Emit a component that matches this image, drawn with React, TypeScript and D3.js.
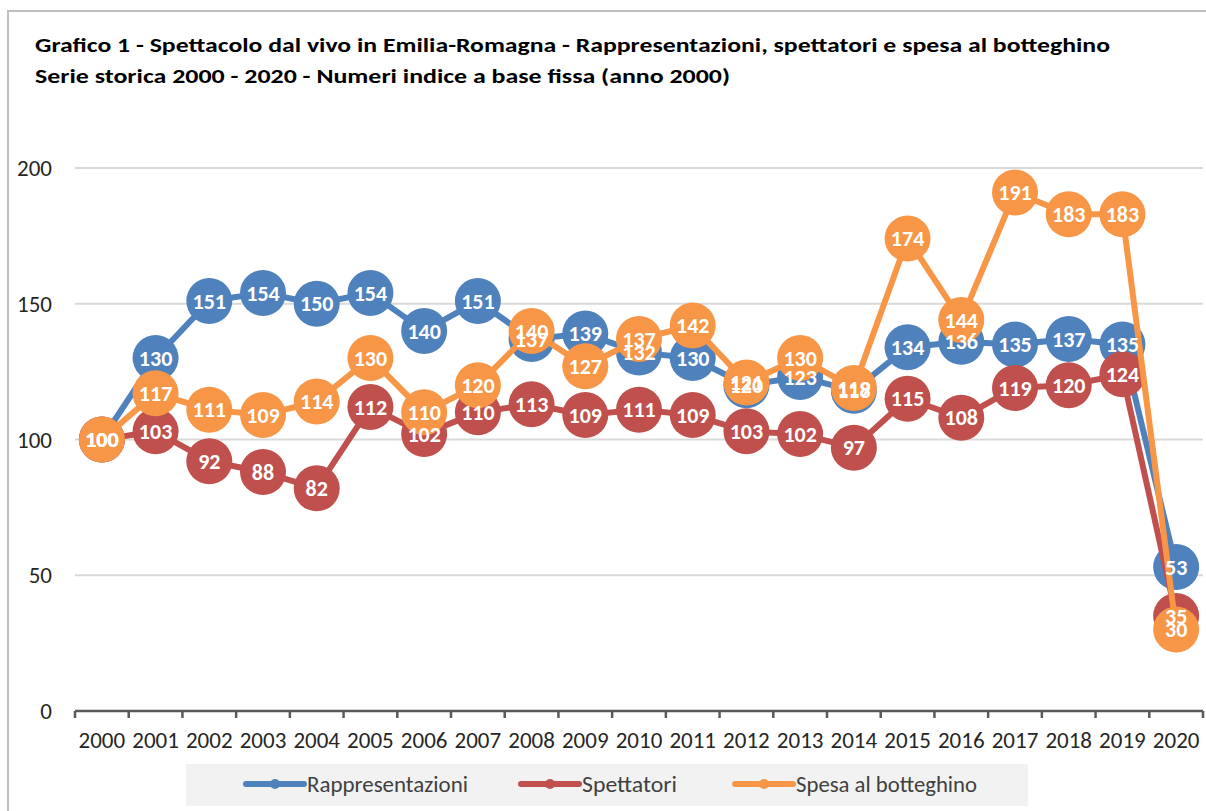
import { useEffect, useRef } from "react"
import * as d3 from "d3"

const years = [
  "2000", "2001", "2002", "2003", "2004", "2005", "2006", "2007", "2008", "2009", "2010",
  "2011", "2012", "2013", "2014", "2015", "2016", "2017", "2018", "2019", "2020",
]

const rappresentazioni = [100, 130, 151, 154, 150, 154, 140, 151, 137, 139, 132, 130, 120, 123, 118, 134, 136, 135, 137, 135, 53]
const spettatori = [100, 103, 92, 88, 82, 112, 102, 110, 113, 109, 111, 109, 103, 102, 97, 115, 108, 119, 120, 124, 35]
const spesa = [100, 117, 111, 109, 114, 130, 110, 120, 140, 127, 137, 142, 121, 130, 119, 174, 144, 191, 183, 183, 30]

const yTicks = [0, 50, 100, 150, 200]

const seriesNames = ["Rappresentazioni", "Spettatori", "Spesa al botteghino"]
const seriesColors = ["#4f81bd", "#c0504d", "#f79646"]

const titleLines = [
  "Grafico 1 - Spettacolo dal vivo in Emilia-Romagna - Rappresentazioni, spettatori e spesa al botteghino",
  "Serie storica 2000 - 2020  - Numeri indice a base fissa (anno 2000)",
]

const font = "Carlito, 'Liberation Sans Narrow', 'Liberation Sans', Arial, sans-serif"

export default function App() {
  const svgRef = useRef<SVGSVGElement>(null)

  useEffect(() => {
    if (!svgRef.current) return
    const svg = d3.select(svgRef.current)
    svg.selectAll("*").remove()

    const allSeries = [rappresentazioni, spettatori, spesa]

    const x = d3.scaleBand().domain(years).range([75, 1203]).padding(0)
    const y = d3.scaleLinear().domain([0, 200]).range([711, 168])
    const cx = (i: number) => (x(years[i]) as number) + x.bandwidth() / 2

    // Outer frame
    svg
      .append("rect")
      .attr("x", 8)
      .attr("y", 11)
      .attr("width", 1220)
      .attr("height", 830)
      .attr("fill", "none")
      .attr("stroke", "#bfbfbf")
      .attr("stroke-width", 2)

    // Title
    const widths = [1075, 695]
    titleLines.forEach((t, i) => {
      svg
        .append("text")
        .attr("x", 35)
        .attr("y", 52 + i * 31)
        .attr("font-family", font)
        .attr("font-weight", "bold")
        .attr("font-size", 21)
        .attr("fill", "#000")
        .attr("textLength", widths[i])
        .attr("lengthAdjust", "spacingAndGlyphs")
        .text(t)
    })

    // Grid lines
    svg
      .append("g")
      .selectAll("line")
      .data(yTicks.filter((d) => d > 0))
      .enter()
      .append("line")
      .attr("x1", 75)
      .attr("x2", 1203)
      .attr("y1", (d) => y(d))
      .attr("y2", (d) => y(d))
      .attr("stroke", "#d9d9d9")
      .attr("stroke-width", 2)

    // Y labels
    svg
      .append("g")
      .selectAll("text")
      .data(yTicks)
      .enter()
      .append("text")
      .attr("x", 52)
      .attr("y", (d) => y(d))
      .attr("dy", "0.35em")
      .attr("text-anchor", "end")
      .attr("font-family", font)
      .attr("font-size", 23)
      .attr("fill", "#262626")
      .text((d) => d)

    // X axis line and tick marks at category boundaries
    const axis = svg.append("g")
    axis
      .append("line")
      .attr("x1", 75)
      .attr("x2", 1203)
      .attr("y1", y(0))
      .attr("y2", y(0))
      .attr("stroke", "#595959")
      .attr("stroke-width", 2.5)
    const bounds = years.map((d) => x(d) as number).concat([1203])
    axis
      .selectAll(".tick")
      .data(bounds)
      .enter()
      .append("line")
      .attr("x1", (d) => d)
      .attr("x2", (d) => d)
      .attr("y1", y(0))
      .attr("y2", y(0) + 7)
      .attr("stroke", "#595959")
      .attr("stroke-width", 2.5)
    axis
      .selectAll(".lbl")
      .data(years)
      .enter()
      .append("text")
      .attr("x", (d) => (x(d) as number) + x.bandwidth() / 2)
      .attr("y", 748)
      .attr("text-anchor", "middle")
      .attr("font-family", font)
      .attr("font-size", 23)
      .attr("fill", "#262626")
      .text((d) => d)

    // Series lines and markers
    const line = d3
      .line<number>()
      .x((_, i) => cx(i))
      .y((d) => y(d))

    allSeries.forEach((data, s) => {
      const g = svg.append("g")
      g.append("path")
        .datum(data)
        .attr("fill", "none")
        .attr("stroke", seriesColors[s])
        .attr("stroke-width", 6)
        .attr("stroke-linejoin", "round")
        .attr("d", line)
      g.selectAll("circle")
        .data(data)
        .enter()
        .append("circle")
        .attr("cx", (_, i) => cx(i))
        .attr("cy", (d) => y(d))
        .attr("r", 23)
        .attr("fill", seriesColors[s])
    })

    // Data labels on top
    allSeries.forEach((data) => {
      svg
        .append("g")
        .selectAll("text")
        .data(data)
        .enter()
        .append("text")
        .attr("x", (_, i) => cx(i))
        .attr("y", (d) => y(d))
        .attr("dy", "0.35em")
        .attr("text-anchor", "middle")
        .attr("font-family", font)
        .attr("font-weight", "bold")
        .attr("font-size", 22)
        .attr("fill", "#fff")
        .text((d) => d)
    })

    // Legend
    const legend = svg.append("g")
    legend
      .append("rect")
      .attr("x", 186)
      .attr("y", 764)
      .attr("width", 842)
      .attr("height", 42)
      .attr("fill", "#f2f2f2")
    const legendX = [246, 521, 735]
    const legendW = [161, 95, 181]
    seriesNames.forEach((name, i) => {
      legend
        .append("line")
        .attr("x1", legendX[i])
        .attr("x2", legendX[i] + 58)
        .attr("y1", 784)
        .attr("y2", 784)
        .attr("stroke", seriesColors[i])
        .attr("stroke-width", 6)
        .attr("stroke-linecap", "round")
      legend
        .append("circle")
        .attr("cx", legendX[i] + 29)
        .attr("cy", 784)
        .attr("r", 5)
        .attr("fill", seriesColors[i])
      legend
        .append("text")
        .attr("x", legendX[i] + 61)
        .attr("y", 792)
        .attr("font-family", font)
        .attr("font-size", 22)
        .attr("fill", "#404040")
        .attr("textLength", legendW[i])
        .attr("lengthAdjust", "spacingAndGlyphs")
        .text(name)
    })
  }, [])

  return (
    <svg
      ref={svgRef}
      width={1206}
      height={811}
      style={{ position: "fixed", left: 0, top: 0, background: "#fff" }}
    ></svg>
  )
}
